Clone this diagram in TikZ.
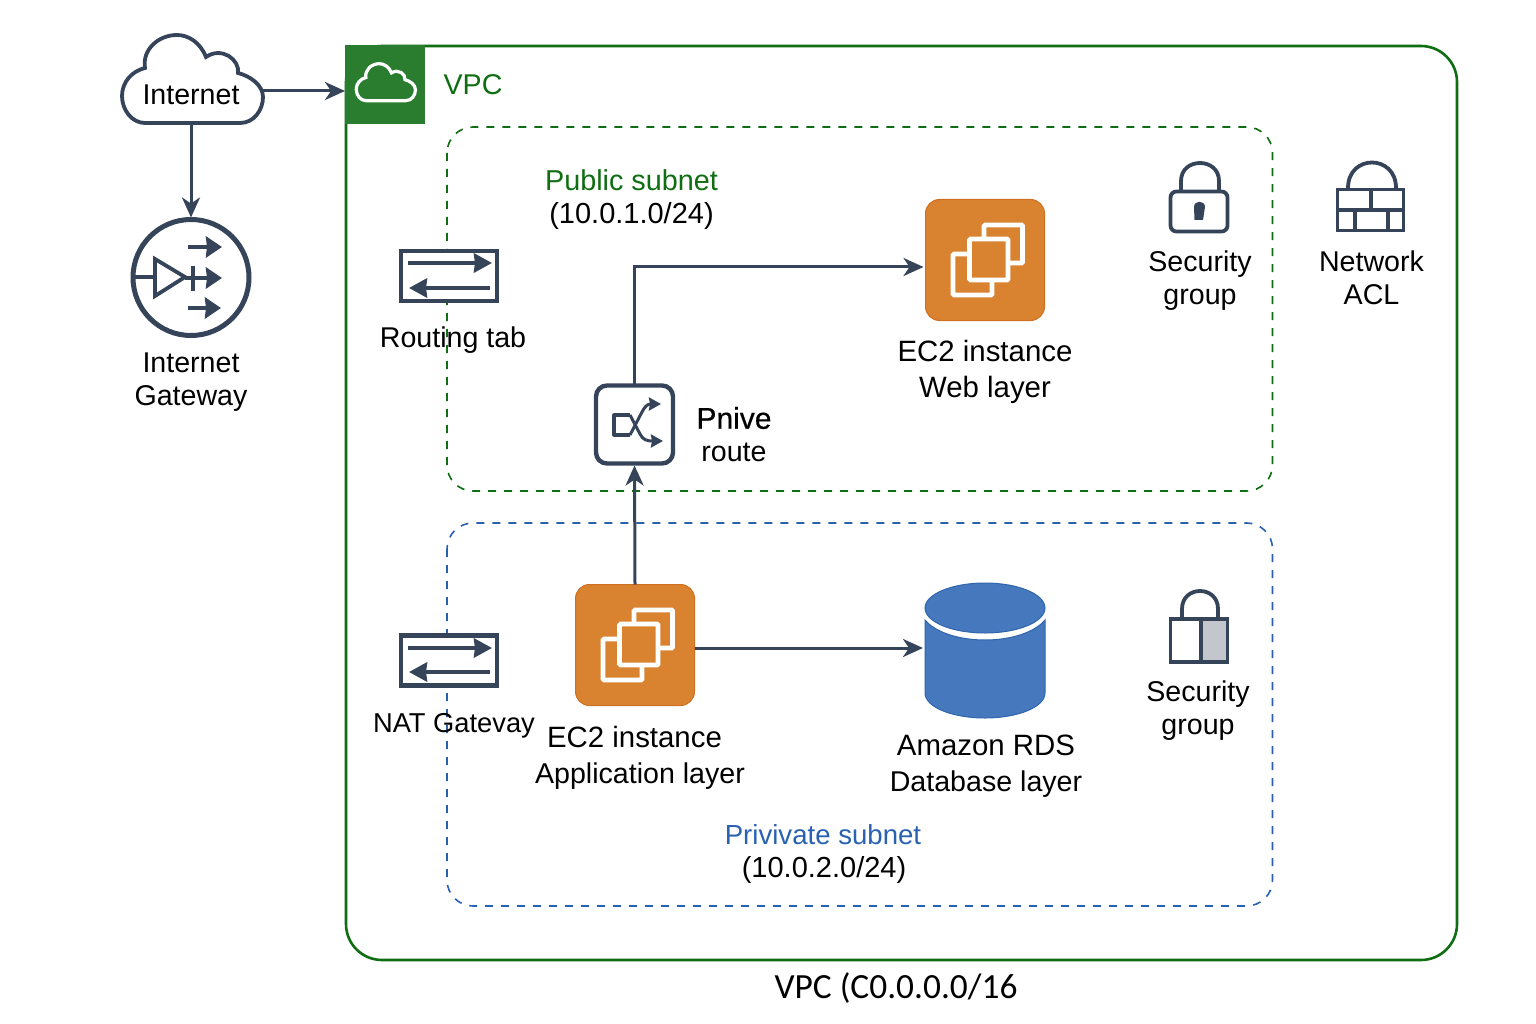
\documentclass[tikz,border=0pt]{standalone}
\usepackage{fontspec}
\setmainfont{Liberation Sans}
\newfontfamily\vpcfont{Carlito}
\newfontfamily\semifont[FakeBold=0.5]{Liberation Sans}
\usetikzlibrary{positioning,arrows.meta}
\definecolor{inkdark}{HTML}{36445A}
\definecolor{vpcgreen}{HTML}{0F6E12}
\definecolor{headgreen}{HTML}{2A7D2E}
\definecolor{subblue}{HTML}{2A62B2}
\definecolor{ec2orange}{HTML}{D9822F}
\definecolor{ec2edge}{HTML}{CE7020}
\definecolor{rdsblue}{HTML}{4678BD}
\definecolor{rdsedge}{HTML}{2F65AD}
\newcommand{\cloudline}{(145,123) -- (240,123) .. controls (254,123) and (263,110) .. (263,97) .. controls (263,85) and (250,76) .. (238,73) .. controls (240,60) and (222,46) .. (206,57) .. controls (200,42) and (188,35) .. (177,35) .. controls (158,35) and (142,50) .. (145,68) .. controls (132,71) and (122,82) .. (122,96) .. controls (122,110) and (132,123) .. (145,123) -- cycle}
\tikzset{
	lbl/.style={font=\fontsize{28.6}{33}\selectfont,align=center,inner sep=0pt},
	wide/.style={font=\fontsize{29.4}{33}\selectfont,align=center,inner sep=0pt},
	holder/.style={inner sep=0pt,outer sep=0pt},
	inkline/.style={draw=inkdark,line width=3.8pt},
	conn/.style={inkdark,line width=3pt,shorten >=2pt,-{Stealth[length=20pt,width=18pt,inset=6pt]}},
	tabarrow/.style={inkdark,line width=4.2pt,-{Stealth[length=18pt,width=19pt,inset=1pt]}},
	gwarrow/.style={inkdark,line width=4.2pt,-{Stealth[length=16pt,width=21pt,inset=1pt]}},
	minarrow/.style={inkdark,line width=3pt,-{Stealth[length=12pt,width=13pt,inset=1pt]}},
	subnet/.style={line width=1.6pt,rounded corners=26pt,dash pattern=on 8pt off 8pt}
}
\begin{document}
\begin{tikzpicture}[x=1pt,y=-1pt]
	\useasboundingbox[fill=white] (0,0) rectangle (1536,1024);

	% vpc and subnets
	\draw[vpcgreen,line width=2.6pt,rounded corners=36pt] (346,46) -- (1457,46) -- (1457,960) -- (346,960) -- cycle;
	\draw[vpcgreen,subnet] (447,127) rectangle (1272.5,491);
	\draw[subblue,subnet] (447,523) rectangle (1272.5,906);
	\node[holder,fill=headgreen,minimum width=80,minimum height=79] (vpchead) at (385,84.5) {};
	\begin{scope}[shift={(305,49)},scale=.42]
		\draw[white,line width=3.2pt] \cloudline;
	\end{scope}

	% internet
	\node[holder,minimum width=141,minimum height=89] (cloud) at (192.5,79.5) {};
	\draw[inkline,fill=white] \cloudline;
	\node[lbl] (internet) at (191,95) {Internet};
	\coordinate (cloudout) at (263,91);
	\coordinate (vpcin) at (vpchead.west |- cloudout);

	% internet gateway
	\node[holder,circle,inkline,line width=5pt,minimum size=116] (igw) at (191,277.5) {};
	\draw[inkline] (135,277) -- (155,277);
	\draw[inkline,line join=miter] (155,259) -- (185,277) -- (155,296) -- cycle;
	\draw[inkline,line width=4.6pt] (193,266) -- (193,291);
	\draw[gwarrow] (185,278) -- (222,278);
	\draw[gwarrow] (188,247) -- (222,247);
	\draw[gwarrow] (188,308) -- (221,308);
	\node[lbl] (igwtext) at (191,382.5) {Internet\\Gateway};

	% routing table and nat box
	\foreach \tabname/\taby/\up/\dn in {rtab/276/-13/12,natgw/660.5/-12.5/11.5} {
		\node[holder,draw=inkdark,line width=4.6pt,fill=white,minimum width=96,minimum height=50] (\tabname) at (449,\taby) {};
		\draw[tabarrow] ([xshift=-41pt,yshift=-\up pt]\tabname.center) -- ([xshift=43pt,yshift=-\up pt]\tabname.center);
		\draw[tabarrow] ([xshift=41pt,yshift=-\dn pt]\tabname.center) -- ([xshift=-40pt,yshift=-\dn pt]\tabname.center);
	}
	\node[lbl] (rtabtext) at (453,340) {Routing tab};
	\node[lbl,font=\fontsize{27.3}{33}\selectfont] (nattext) at (454,725.5) {NAT Gatevay};

	% ec2 boxes
	\foreach \insname/\insx/\insy in {webins/985/260,appins/635/645} {
		\node[holder,draw=ec2edge,line width=1pt,fill=ec2orange,rounded corners=14pt,minimum width=119,minimum height=121] (\insname) at (\insx,\insy) {};
		\begin{scope}[shift={(\insx,\insy)},draw=white,fill=ec2orange,line width=4.6pt,rounded corners=1pt]
			\filldraw (-1,-35) rectangle (37.5,3);
			\filldraw (-32,-6) rectangle (7,35);
			\filldraw (-15.5,-21) rectangle (23,20);
		\end{scope}
	}
	\node[wide] (webtext) at (985,371.5) {EC2 instance\\[3pt]Web layer};
	\node[lbl] (apptext) at (640,757.5) {{\fontsize{29.4}{33}\selectfont EC2 instance}\hspace*{11pt}\\[3pt]Application layer};

	% router
	\node[holder,draw=inkdark,line width=4.4pt,fill=white,rounded corners=11pt,minimum width=77,minimum height=78] (router) at (634.5,424.5) {};
	\draw[inkline,line width=3.2pt,line join=round] (630,415) -- (614,415) -- (614,435) -- (630,435);
	\draw[minarrow] (630,435) -- (642,412) .. controls (645,406) and (648,404) .. (661,404);
	\draw[minarrow] (630,415) -- (640,434) .. controls (643,440) and (647,441) .. (663,441);
	\node[lbl] (routertext) at (734,434.5) {{\semifont\fontsize{30}{33}\selectfont Pnive}\\route};

	% security and acl icons
	\draw[inkline] (1181,190) -- (1181,181) .. controls (1181,157) and (1219,157) .. (1219,181) -- (1219,190);
	\node[holder,inkline,fill=white,rounded corners=6pt,minimum width=57,minimum height=40] (seclock) at (1199,211.5) {};
	\fill[inkdark] (1194,207) .. controls (1194,200) and (1205,200) .. (1205,207) -- (1203,220) -- (1194.5,220) -- cycle;
	\node[lbl] (sectext) at (1200,281) {Security\\group};

	\draw[inkline] (1348,188) .. controls (1348,154) and (1396,154) .. (1396,188);
	\node[holder,inkline,fill=white,minimum width=66,minimum height=41] (acl) at (1370.5,210) {};
	\draw[inkline] (acl.west) -- (acl.east);
	\draw[inkline] (1371,189) -- (1371,209);
	\draw[inkline] (1355,210) -- (1355,231);
	\draw[inkline] (1388,210) -- (1388,231);
	\node[lbl] (acltext) at (1371.5,278) {Network\\ACL};

	\draw[inkline] (1182,618) -- (1182,609) .. controls (1182,585) and (1218,585) .. (1218,609) -- (1218,618);
	\node[holder,inkline,fill=white,minimum width=57,minimum height=43] (privlock) at (1199,640.5) {};
	\fill[fill=inkdark!30!white] (1203,621) rectangle (1226,660);
	\draw[inkline] (1201,619) -- (1201,662);
	\node[lbl] (privsectext) at (1198,710.5) {Security\\group};

	% database
	\node[holder,minimum width=120,minimum height=135] (rds) at (985,650.5) {};
	\draw[rdsedge,fill=rdsblue,line width=1pt] (925,620) .. controls (935,632) and (958,640) .. (985,640) .. controls (1012,640) and (1035,632) .. (1045,620) -- (1045,693) .. controls (1045,707) and (1018,718) .. (985,718) .. controls (952,718) and (925,707) .. (925,693) -- cycle;
	\draw[rdsedge,fill=rdsblue,line width=1pt] (985,608) ellipse [x radius=60,y radius=25];
	\node[lbl] (rdstext) at (986,766) {{\fontsize{29.4}{33}\selectfont Amazon RDS}\\[3pt]Database layer};

	% subnet and vpc texts
	\node[lbl,text=vpcgreen] (vpctext) at (473,85) {VPC};
	\node[lbl,font=\fontsize{29}{33}\selectfont] (pubtext) at (631.5,200) {\textcolor{vpcgreen}{\fontsize{28.8}{33}\selectfont Public subnet}\\(10.0.1.0/24)};
	\node[lbl,font=\fontsize{29}{33}\selectfont] (privtext) at (824,854) {\textcolor{subblue}{\fontsize{27.6}{33}\selectfont Privivate subnet\hspace*{2pt}}\\(10.0.2.0/24)};
	\node[inner sep=0pt,font=\vpcfont\fontsize{35.4}{40}\selectfont] (vpccidr) at (896,988) {VPC (C0.0.0.0/16};

	% connectors
	\draw[conn,shorten >=0pt] (cloudout) -- (vpcin);
	\draw[conn] (cloud.south -| internet) -- (igw.north);
	\draw[conn] (router.north) |- ([yshift=-7pt]webins.west);
	\draw[conn] (appins.north) -- (router.south);
	\draw[conn] ([yshift=-3pt]appins.east) -- ([yshift=2.5pt]rds.west);
\end{tikzpicture}
\end{document}
